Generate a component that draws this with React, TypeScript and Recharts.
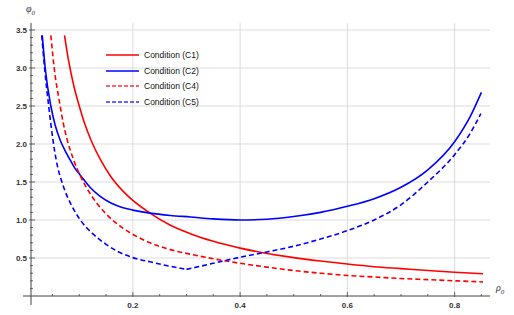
import { LineChart, Line, XAxis, YAxis, ReferenceLine } from "recharts";

// (rho0 -> phi0)
const c1X = [0.0725, 0.08, 0.09, 0.1, 0.11, 0.122, 0.139, 0.16, 0.19, 0.232, 0.27, 0.307, 0.35, 0.4, 0.45, 0.5, 0.55, 0.6, 0.65, 0.7, 0.75, 0.8, 0.853];
const c1Y = [3.43, 3.1, 2.76, 2.5, 2.27, 2.05, 1.8, 1.56, 1.32, 1.09, 0.93, 0.82, 0.72, 0.63, 0.56, 0.505, 0.46, 0.42, 0.385, 0.36, 0.335, 0.313, 0.293];

const c2X = [0.031, 0.0365, 0.047, 0.055, 0.0645, 0.073, 0.083, 0.092, 0.102, 0.12, 0.139, 0.16, 0.18, 0.2, 0.232, 0.27, 0.307, 0.35, 0.4, 0.45, 0.5, 0.55, 0.6, 0.65, 0.7, 0.75, 0.8, 0.829, 0.85];
const c2Y = [3.43, 3.0, 2.5, 2.25, 2.05, 1.92, 1.79, 1.68, 1.59, 1.43, 1.31, 1.22, 1.165, 1.13, 1.09, 1.06, 1.04, 1.015, 1.0, 1.01, 1.045, 1.1, 1.18, 1.28, 1.43, 1.66, 2.03, 2.36, 2.68];

const c4X = [0.047, 0.055, 0.062, 0.07, 0.077, 0.089, 0.102, 0.12, 0.15, 0.18, 0.2136, 0.232, 0.27, 0.307, 0.35, 0.4, 0.45, 0.5, 0.55, 0.6, 0.65, 0.7, 0.75, 0.8, 0.853];
const c4Y = [3.43, 2.9, 2.6, 2.28, 2.07, 1.8, 1.58, 1.35, 1.08, 0.9, 0.76, 0.7, 0.61, 0.55, 0.49, 0.43, 0.38, 0.335, 0.3, 0.27, 0.25, 0.23, 0.215, 0.2, 0.185];

// C5 has a corner at its minimum, so it is split in two pieces
const c5aX = [0.03, 0.036, 0.043, 0.051, 0.057, 0.07, 0.085, 0.102, 0.125, 0.15, 0.175, 0.2, 0.232, 0.26, 0.3];
const c5aY = [3.43, 2.95, 2.5, 2.05, 1.79, 1.45, 1.2, 1.0, 0.82, 0.68, 0.575, 0.505, 0.45, 0.405, 0.35];
const c5bX = [0.3, 0.35, 0.4, 0.45, 0.5, 0.55, 0.6, 0.65, 0.7, 0.75, 0.8, 0.829, 0.849];
const c5bY = [0.35, 0.43, 0.51, 0.58, 0.655, 0.75, 0.86, 1.0, 1.2, 1.5, 1.86, 2.14, 2.4];

const xMajor = [0.2, 0.4, 0.6, 0.8];
const xMinor = [0.05, 0.1, 0.15, 0.2, 0.25, 0.3, 0.35, 0.4, 0.45, 0.5, 0.55, 0.6, 0.65, 0.7, 0.75, 0.8, 0.85];
const yMajor = [0.5, 1.0, 1.5, 2.0, 2.5, 3.0, 3.5];
const yMinor = [0.1, 0.2, 0.3, 0.4, 0.5, 0.6, 0.7, 0.8, 0.9, 1.0, 1.1, 1.2, 1.3, 1.4, 1.5, 1.6, 1.7, 1.8, 1.9, 2.0, 2.1, 2.2, 2.3, 2.4, 2.5, 2.6, 2.7, 2.8, 2.9, 3.0, 3.1, 3.2, 3.3, 3.4, 3.5];

const legendItems = [
  { label: "Condition (C1)", color: "#ff0000", dash: undefined },
  { label: "Condition (C2)", color: "#0000ff", dash: undefined },
  { label: "Condition (C4)", color: "#ff3333", dash: "4 2" },
  { label: "Condition (C5)", color: "#3333ff", dash: "4 2" },
];

const pts = (xs: number[], ys: number[]) => xs.map((x, i) => ({ x, y: ys[i] }));

const isMajor = (v: number, majors: number[]) => majors.some(m => Math.abs(m - v) < 1e-6);

function XTick({ x, y, payload }: any) {
  const major = isMajor(payload.value, xMajor);
  return (
    <g>
      <line x1={x} x2={x} y1={y - (major ? 4 : 2)} y2={y + (major ? 1 : 0)} stroke="#444" strokeWidth={0.8} />
      {major && (
        <text x={x} y={y + 12} textAnchor="middle" fontSize={8} fontWeight="bold" fill="#333" fontFamily="Liberation Sans, Arial">
          {payload.value.toFixed(1)}
        </text>
      )}
    </g>
  );
}

function YTick({ x, y, payload }: any) {
  const major = isMajor(payload.value, yMajor);
  return (
    <g>
      <line x1={x - (major ? 2 : 1)} x2={x + (major ? 4 : 2)} y1={y} y2={y} stroke="#444" strokeWidth={0.8} />
      {major && (
        <text x={x - 4} y={y + 3} textAnchor="end" fontSize={8} fontWeight="bold" fill="#333" fontFamily="Liberation Sans, Arial">
          {payload.value.toFixed(1)}
        </text>
      )}
    </g>
  );
}

function LegendBox() {
  return (
    <div style={{ position: "absolute", left: 106, top: 47, fontFamily: "Liberation Sans, Arial", fontSize: 8.5, color: "#111" }}>
      {legendItems.map(it => (
        <div key={it.label} style={{ display: "flex", alignItems: "center", height: 15.7, whiteSpace: "nowrap" }}>
          <svg width={33} height={4} style={{ marginRight: 5 }}>
            <line x1={0} x2={33} y1={2} y2={2} stroke={it.color} strokeWidth={1.5} strokeDasharray={it.dash} />
          </svg>
          <span>{it.label}</span>
        </div>
      ))}
    </div>
  );
}

export default function App() {
  return (
    <div style={{ width: 514, height: 315, background: "#fff", position: "relative" }}>
      <style>{`body{margin:0}`}</style>
      <LineChart width={514} height={315} margin={{ top: 23, right: 24, left: 1, bottom: 0 }}>
        <XAxis
          type="number" dataKey="x" domain={[0.01, 0.866]} ticks={xMinor}
          tick={<XTick />} tickLine={false} tickSize={0} tickMargin={0} axisLine={{ stroke: "#444", strokeWidth: 1 }}
          height={19} allowDataOverflow interval={0}
        />
        <YAxis
          type="number" dataKey="y" domain={[0, 3.592]} ticks={yMinor}
          tick={<YTick />} tickLine={false} tickSize={0} tickMargin={0} axisLine={{ stroke: "#444", strokeWidth: 1 }}
          width={30} allowDataOverflow interval={0}
        />
        {xMajor.map(v => <ReferenceLine key={"gx" + v} x={v} stroke="#dcdcdc" strokeWidth={1} />)}
        {yMajor.map(v => <ReferenceLine key={"gy" + v} y={v} stroke="#dcdcdc" strokeWidth={1} />)}
        {/* axis overhang below / left of the origin */}
        <ReferenceLine segment={[{ x: 0.01, y: 0 }, { x: 0.01, y: -0.12 }]} stroke="#444" strokeWidth={1} ifOverflow="visible" />
        <ReferenceLine segment={[{ x: -0.005, y: 0 }, { x: 0.01, y: 0 }]} stroke="#444" strokeWidth={1} ifOverflow="visible" />
        <Line data={pts(c1X, c1Y)} dataKey="y" type="monotone" stroke="#ff0000" strokeWidth={1.6} dot={false} isAnimationActive={false} />
        <Line data={pts(c2X, c2Y)} dataKey="y" type="monotone" stroke="#0000ff" strokeWidth={1.6} dot={false} isAnimationActive={false} />
        <Line data={pts(c4X, c4Y)} dataKey="y" type="monotone" stroke="#ff0000" strokeWidth={1.6} strokeDasharray="5 3" dot={false} isAnimationActive={false} />
        <Line data={pts(c5aX, c5aY)} dataKey="y" type="monotone" stroke="#0000ff" strokeWidth={1.6} strokeDasharray="5 3" dot={false} isAnimationActive={false} />
        <Line data={pts(c5bX, c5bY)} dataKey="y" type="monotone" stroke="#0000ff" strokeWidth={1.6} strokeDasharray="5 3" dot={false} isAnimationActive={false} />
      </LineChart>
      <LegendBox />
      <div style={{ position: "absolute", left: 496, top: 282, fontFamily: "Liberation Serif, serif", fontStyle: "italic", fontSize: 10, color: "#333" }}>
        ρ<sub style={{ fontSize: 7 }}>0</sub>
      </div>
      <div style={{ position: "absolute", left: 26, top: 3, fontFamily: "Liberation Serif, serif", fontStyle: "italic", fontSize: 10, color: "#333" }}>
        φ<sub style={{ fontSize: 7 }}>0</sub>
      </div>
    </div>
  );
}
